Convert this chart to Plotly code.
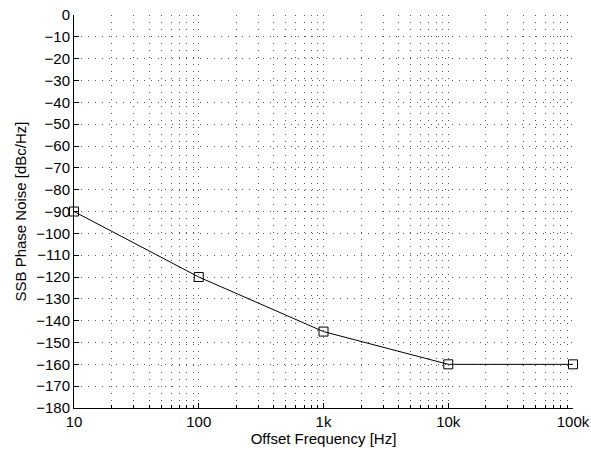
import plotly.graph_objects as go

freq = [10, 100, 1000, 10000, 100000]
noise = [-90, -120, -145, -160, -160]
x_tickvals = [10, 100, 1000, 10000, 100000]
x_ticktext = ["10", "100", "1k", "10k", "100k"]
x_minor = [m * d for d in [10, 100, 1000, 10000] for m in range(2, 10)]
y_tickvals = list(range(-180, 1, 10))

fig = go.Figure()
fig.add_trace(go.Scatter(
    x=freq, y=noise, mode="lines+markers",
    line=dict(color="black", width=1),
    marker=dict(symbol="square-open", size=9, color="black", line=dict(width=1)),
    cliponaxis=False,
    showlegend=False,
))

font = dict(family="Liberation Sans, Arial, sans-serif", size=15, color="black")
grid_dash = "1px,6px"
grid_col = "#555555"

fig.update_layout(
    width=591, height=450,
    margin=dict(l=74, r=18, t=15, b=42),
    paper_bgcolor="white", plot_bgcolor="white",
    font=font,
    xaxis=dict(
        type="log", range=[1, 5], automargin=False,
        tickmode="array", tickvals=x_tickvals, ticktext=x_ticktext,
        ticks="inside", ticklen=5, tickcolor="black",
        showline=True, linecolor="black", linewidth=1,
        showgrid=True, gridcolor=grid_col, griddash=grid_dash, gridwidth=1,
        minor=dict(tickmode="array", tickvals=x_minor,
                   showgrid=True, gridcolor=grid_col, griddash=grid_dash, gridwidth=1,
                   ticks="inside", ticklen=3, tickcolor="black"),
        zeroline=False,
        title=dict(text="Offset Frequency [Hz]", standoff=1, font=font),
        tickfont=font,
    ),
    yaxis=dict(
        range=[-180, 0], automargin=False,
        tickmode="array", tickvals=y_tickvals,
        ticks="inside", ticklen=5, tickcolor="black",
        showline=True, linecolor="black", linewidth=1,
        showgrid=True, gridcolor=grid_col, griddash=grid_dash, gridwidth=1,
        zeroline=False,
        title=dict(text="SSB Phase Noise [dBc/Hz]", standoff=5, font=font),
        tickfont=font,
    ),
)

fig.write_html("out.html")
